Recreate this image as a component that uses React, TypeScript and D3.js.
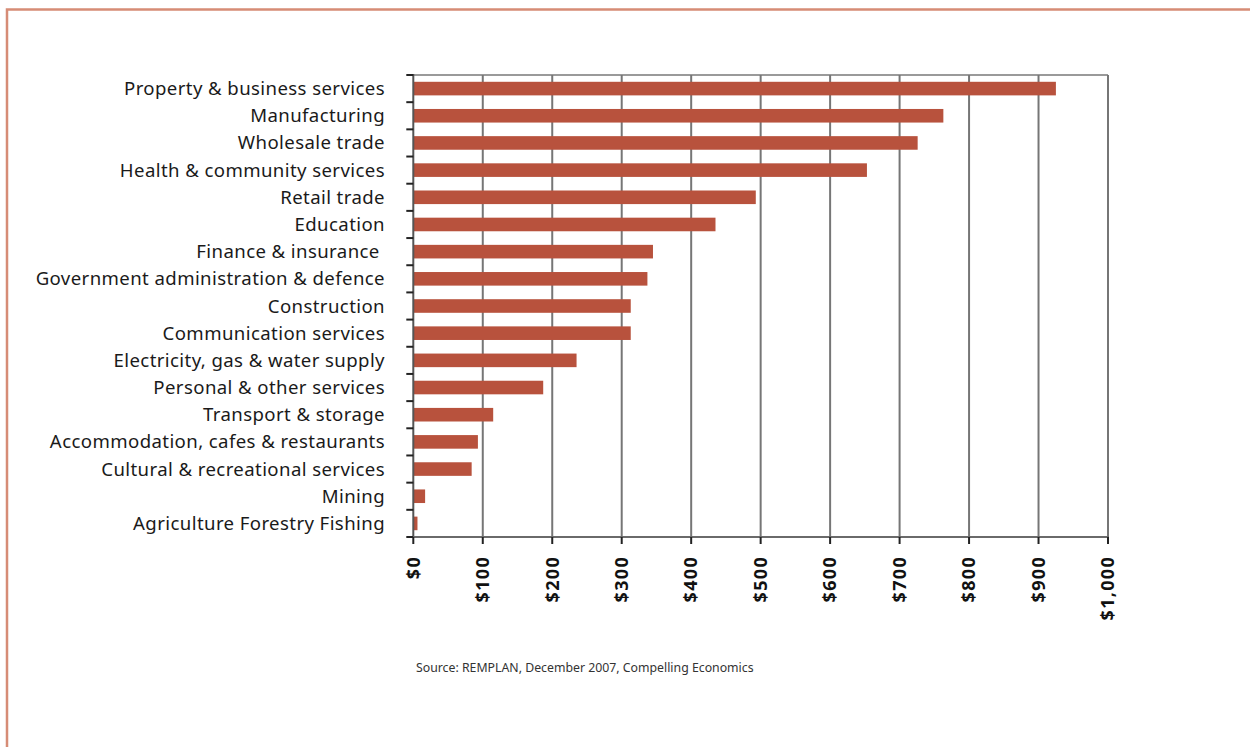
import React from "react";
import * as d3 from "d3";

const categories = [
  "Property & business services",
  "Manufacturing",
  "Wholesale trade",
  "Health & community services",
  "Retail trade",
  "Education",
  "Finance & insurance ",
  "Government administration & defence",
  "Construction",
  "Communication services",
  "Electricity, gas & water supply",
  "Personal & other services",
  "Transport & storage",
  "Accommodation, cafes & restaurants",
  "Cultural & recreational services",
  "Mining",
  "Agriculture Forestry Fishing",
];
const values = [925, 763, 726, 653, 493, 435, 345, 337, 313, 313, 235, 187, 115, 93, 84, 17, 6];
const tickValues = [0, 100, 200, 300, 400, 500, 600, 700, 800, 900, 1000];
const sourceText = "Source: REMPLAN, December 2007, Compelling Economics";

const W = 1250;
const H = 747;
const left = 413.3;
const right = 1108;
const top = 75;
const bottom = 537;

export default function App() {
  const x = d3.scaleLinear().domain([0, 1000]).range([left, right]);
  const y = d3
    .scaleBand<string>()
    .domain(categories)
    .range([top, bottom])
    .paddingInner(0.5)
    .paddingOuter(0.25);
  const step = y.step();
  const fmt = (v: number) => "$" + d3.format(",")(v);
  const font = "'Noto Sans', 'Open Sans', sans-serif";

  return (
    <svg
      width={W}
      height={H}
      style={{ position: "absolute", left: 0, top: 0, background: "#fff" }}
    >
      <path d={`M7,${H} V9.5 H${W}`} fill="none" stroke="#d68c76" strokeWidth={2.5} />

      {/* top border of plot */}
      <line x1={left} x2={right} y1={top} y2={top} stroke="#9a9a9a" strokeWidth={2} />

      {/* gridlines */}
      {tickValues.slice(1).map((t) => (
        <line key={"g" + t} x1={x(t)} x2={x(t)} y1={top} y2={bottom} stroke="#767676" strokeWidth={2} />
      ))}

      {/* bars */}
      {categories.map((c, i) => (
        <rect
          key={c}
          x={x(0)}
          y={y(c)!}
          width={x(values[i]) - x(0)}
          height={y.bandwidth()}
          fill="#b8523d"
        />
      ))}

      {/* left axis */}
      <line x1={left} x2={left} y1={top - 1} y2={bottom} stroke="#555" strokeWidth={2} />
      {d3.range(categories.length + 1).map((k) => (
        <line
          key={"lt" + k}
          x1={left - 7}
          x2={left}
          y1={top + k * step}
          y2={top + k * step}
          stroke="#222"
          strokeWidth={2}
        />
      ))}

      {/* bottom axis */}
      <line x1={left} x2={right + 1} y1={bottom} y2={bottom} stroke="#6a6a6a" strokeWidth={2} />
      {tickValues.map((t) => (
        <line key={"bt" + t} x1={x(t)} x2={x(t)} y1={bottom} y2={bottom + 7} stroke="#222" strokeWidth={2} />
      ))}

      {/* category labels */}
      {categories.map((c) => (
        <text
          key={"l" + c}
          x={385}
          y={y(c)! + y.bandwidth() / 2}
          dy="0.35em"
          textAnchor="end"
          fontFamily={font}
          fontSize={18.6}
          letterSpacing={0.4}
          fill="#1a1a1a"
          style={{ whiteSpace: "pre" }}
        >
          {c}
        </text>
      ))}

      {/* x tick labels */}
      {tickValues.map((t) => (
        <text
          key={"xl" + t}
          transform={`translate(${x(t)},${bottom + 19}) rotate(-90)`}
          dy="0.35em"
          textAnchor="end"
          fontFamily={font}
          fontSize={18}
          fontWeight="bold"
          letterSpacing={1.3}
          fill="#111"
        >
          {fmt(t)}
        </text>
      ))}

      <text x={416} y={672} fontFamily={font} fontSize={12.3} fill="#333">
        {sourceText}
      </text>
    </svg>
  );
}
